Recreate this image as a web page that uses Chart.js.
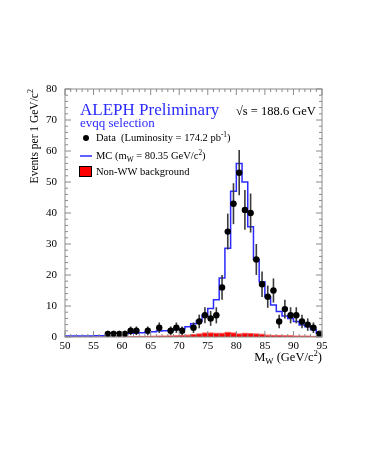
<!DOCTYPE html>
<html>
<head>
<meta charset="utf-8">
<script src="https://cdn.jsdelivr.net/npm/chart.js@4"></script>
<style>
  html, body { margin: 0; padding: 0; background: #fff; }
  #wrap { width: 365px; height: 473px; }
</style>
</head>
<body>
<div id="wrap"><canvas id="c" width="365" height="473"></canvas></div>
<script>
// histogram bin lower edges (1 GeV bins), last entry closes the final bin
const binEdges = [50,51,52,53,54,55,56,57,58,59,60,61,62,63,64,65,66,67,68,69,70,71,72,73,74,
                  75,76,77,78,79,80,81,82,83,84,85,86,87,88,89,90,91,92,93,94,95];
// MC expectation per bin (50..94)
const mcValues = [0.3,0.3,0.3,0.3,0.3,0.4,0.4,0.5,0.6,0.8,
                  1.0,1.2,1.3,1.4,1.6,1.7,1.9,2.0,2.1,2.4,
                  2.7,3.3,4.3,5.2,7.0,9.2,12.0,19.0,28.6,47.0,
                  56.0,50.0,35.6,25.0,17.8,13.0,10.3,8.2,6.8,6.0,
                  5.0,3.9,3.3,2.3,1.2];
// non-WW background per bin (50..94)
const bkgValues = [0,0,0,0,0,0,0,0,0,0.05,
                   0.1,0.1,0.15,0.2,0.2,0.25,0.3,0.3,0.35,0.4,
                   0.5,0.6,0.8,1.0,1.3,1.3,1.2,1.2,1.5,1.3,
                   1.0,1.2,1.1,1.0,0.9,0.6,0.5,0.5,0.4,0.4,
                   0.3,0.3,0.3,0.2,0.2];
// data points
const dataMass = [57.5,58.5,59.5,60.5,61.5,62.5,64.5,66.5,68.5,69.5,70.5,72.5,73.5,74.5,75.5,76.5,
                  77.5,78.5,79.5,80.5,81.5,82.5,83.5,84.5,85.5,86.5,87.5,88.5,89.5,90.5,91.5,92.5,93.5,94.5];
const dataCounts = [1,1,1,1,2,2,2,3,2,3,2,3,5,7,6,7,
                    16,34,43,53,41,40,25,17,13,15,5,9,7,7,5,4,3,1];
const dataErrors = [1,1,1,1,1.4,1.4,1.4,1.7,1.4,1.7,1.4,1.7,2.2,2.6,2.4,2.6,
                    4,5.8,6.6,7.3,6.4,6.3,5,4.1,3.6,3.9,2.2,3,2.6,2.6,2.2,2,1.7,1];
const xTicks = [50,55,60,65,70,75,80,85,90,95];
const yTicks = [0,10,20,30,40,50,60,70,80];

const SERIF = '"Liberation Serif", "Times New Roman", serif';
const BLUE = '#2b2bff';

function histPoints(values) {
  const pts = values.map((v, i) => ({ x: binEdges[i], y: v }));
  pts.push({ x: binEdges[binEdges.length - 1], y: values[values.length - 1] });
  return pts;
}

// text with sub/superscript pieces
function richText(ctx, x, y, parts, size, align) {
  const widths = parts.map(p => {
    ctx.font = (p.s ? size * 0.7 : size) + 'px ' + SERIF;
    return ctx.measureText(p.t).width;
  });
  const total = widths.reduce((a, b) => a + b, 0);
  let cx = align === 'right' ? x - total : x;
  parts.forEach((p, i) => {
    ctx.font = (p.s ? size * 0.7 : size) + 'px ' + SERIF;
    let dy = 0;
    if (p.s === 'sup') dy = -size * 0.42;
    if (p.s === 'sub') dy = size * 0.25;
    ctx.textAlign = 'left';
    ctx.fillText(p.t, cx, y + dy);
    cx += widths[i];
  });
}

const decor = {
  id: 'decor',
  beforeDatasetDraw(chart, args) {
    if (args.index !== 0) return;
    const { ctx, scales: { x, y } } = chart;
    ctx.save();
    ctx.lineWidth = 1.6;
    dataMass.forEach((m, i) => {
      const px = x.getPixelForValue(m);
      const py = y.getPixelForValue(dataCounts[i]);
      ctx.strokeStyle = '#3a3a3a';
      ctx.beginPath();
      ctx.moveTo(px, y.getPixelForValue(Math.max(0, dataCounts[i] - dataErrors[i])));
      ctx.lineTo(px, y.getPixelForValue(dataCounts[i] + dataErrors[i]));
      ctx.stroke();
      ctx.strokeStyle = '#000';
      ctx.beginPath();
      ctx.moveTo(x.getPixelForValue(m - 0.5), py);
      ctx.lineTo(x.getPixelForValue(m + 0.5), py);
      ctx.stroke();
    });
    ctx.restore();
  },
  afterDraw(chart) {
    const { ctx, chartArea: a, scales: { x, y } } = chart;
    ctx.save();
    // frame + inward ticks
    ctx.strokeStyle = '#8a8a8a';
    ctx.lineWidth = 1;
    ctx.strokeRect(a.left, a.top, a.right - a.left, a.bottom - a.top);
    ctx.beginPath();
    for (let v = 50; v <= 95; v += 1) {
      const px = x.getPixelForValue(v);
      const len = v % 5 === 0 ? 6 : 3;
      ctx.moveTo(px, a.bottom); ctx.lineTo(px, a.bottom - len);
      ctx.moveTo(px, a.top); ctx.lineTo(px, a.top + len);
    }
    for (let v = 0; v <= 80; v += 2) {
      const py = y.getPixelForValue(v);
      const len = v % 10 === 0 ? 6 : 3;
      ctx.moveTo(a.left, py); ctx.lineTo(a.left + len, py);
      ctx.moveTo(a.right, py); ctx.lineTo(a.right - len, py);
    }
    ctx.stroke();

    ctx.fillStyle = '#000';
    ctx.textBaseline = 'alphabetic';
    // axis titles
    richText(ctx, a.right, 361, [{ t: 'M' }, { t: 'W', s: 'sub' }, { t: ' (GeV/c' }, { t: '2', s: 'sup' }, { t: ')' }], 12.5, 'right');
    ctx.save();
    ctx.translate(38, a.top);
    ctx.rotate(-Math.PI / 2);
    richText(ctx, 0, 0, [{ t: 'Events per 1 GeV/c' }, { t: '2', s: 'sup' }], 11.5, 'right');
    ctx.restore();

    // header texts
    ctx.fillStyle = BLUE;
    richText(ctx, 80, 115, [{ t: 'ALEPH Preliminary' }], 17);
    richText(ctx, 80, 127, [{ t: 'evqq selection' }], 13);
    ctx.fillStyle = '#000';
    richText(ctx, 236, 115, [{ t: '\u221As = 188.6 GeV' }], 12.5);

    // legend
    ctx.beginPath();
    ctx.arc(86, 138, 3, 0, Math.PI * 2);
    ctx.fill();
    richText(ctx, 96, 141, [{ t: 'Data  (Luminosity = 174.2 pb' }, { t: '-1', s: 'sup' }, { t: ')' }], 10.5);
    ctx.strokeStyle = BLUE;
    ctx.lineWidth = 1.5;
    ctx.beginPath();
    ctx.moveTo(80, 156); ctx.lineTo(92, 156);
    ctx.stroke();
    richText(ctx, 96, 159, [{ t: 'MC (m' }, { t: 'W', s: 'sub' }, { t: ' = 80.35 GeV/c' }, { t: '2', s: 'sup' }, { t: ')' }], 10.5);
    ctx.fillStyle = '#ff0000';
    ctx.fillRect(79, 166, 13, 11);
    ctx.strokeStyle = '#000';
    ctx.lineWidth = 1;
    ctx.strokeRect(79.5, 166.5, 12, 10);
    ctx.fillStyle = '#000';
    richText(ctx, 96, 175, [{ t: 'Non-WW background' }], 10.5);
    ctx.restore();
  }
};

new Chart(document.getElementById('c'), {
  type: 'line',
  data: {
    datasets: [
      {
        label: 'Data',
        data: dataMass.map((m, i) => ({ x: m, y: dataCounts[i] })),
        showLine: false,
        pointRadius: 3.2,
        pointBackgroundColor: '#000',
        pointBorderColor: '#000',
        pointBorderWidth: 0
      },
      {
        label: 'MC',
        data: histPoints(mcValues),
        stepped: 'before',
        borderColor: BLUE,
        borderWidth: 1.5,
        pointRadius: 0,
        fill: false
      },
      {
        label: 'Non-WW background',
        data: histPoints(bkgValues),
        stepped: 'before',
        borderColor: '#ff5a5a',
        borderWidth: 1,
        backgroundColor: '#ff0000',
        pointRadius: 0,
        fill: 'origin'
      }
    ]
  },
  options: {
    responsive: false,
    devicePixelRatio: 1,
    animation: false,
    layout: { padding: { top: 89, right: 43, bottom: 100, left: 0 } },
    plugins: { legend: { display: false }, tooltip: { enabled: false } },
    scales: {
      x: {
        type: 'linear', min: 50, max: 95,
        afterFit: s => { s.height = 36; },
        afterBuildTicks: s => { s.ticks = xTicks.map(v => ({ value: v })); },
        grid: { display: false, drawTicks: false },
        border: { display: false },
        ticks: { color: '#000', padding: 3, maxRotation: 0, autoSkip: false, font: { family: SERIF, size: 11 } }
      },
      y: {
        type: 'linear', min: 0, max: 80,
        afterFit: s => { s.width = 65; },
        afterBuildTicks: s => { s.ticks = yTicks.map(v => ({ value: v })); },
        grid: { display: false, drawTicks: false },
        border: { display: false },
        ticks: { color: '#000', padding: 8, font: { family: SERIF, size: 11 } }
      }
    }
  },
  plugins: [decor]
});
</script>
</body>
</html>
